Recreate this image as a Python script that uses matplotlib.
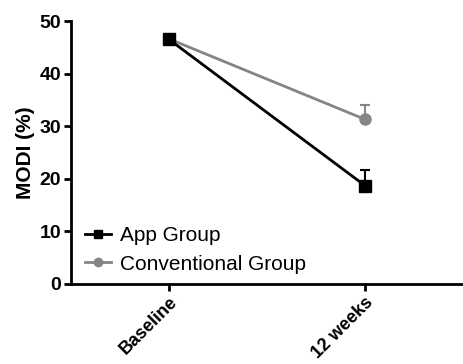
import matplotlib
matplotlib.use("Agg")
import matplotlib.pyplot as plt
from matplotlib.lines import Line2D
import numpy as np

plt.rcParams['font.family'] = ['Liberation Sans', 'DejaVu Sans']

categories = ["Baseline", "12 weeks"]
app_vals = [46.5, 18.7]
app_err = [0.5, 2.9]
conv_vals = [46.6, 31.3]
conv_err = [0.5, 2.7]
yticks = [0, 10, 20, 30, 40, 50]

fig = plt.figure(figsize=(4.63, 3.64), dpi=100)
ax = fig.add_axes([71/463, 1-284/364, (463-71)/463, (284-21)/364])

x = np.arange(len(categories))
grey = '#858585'
ax.errorbar(x, conv_vals, yerr=[np.zeros(2), conv_err], color=grey, lw=2,
            marker='o', ms=8, capsize=3.5, capthick=1.5, elinewidth=1.5, zorder=2)
ax.errorbar(x, app_vals, yerr=[np.zeros(2), app_err], color='black', lw=2,
            marker='s', ms=8, capsize=3.5, capthick=1.5, elinewidth=1.5, zorder=3)

ax.set_xlim(-0.5, 1.5)
ax.set_ylim(0, 50)
ax.set_yticks(yticks)
ax.set_xticks(x)
ax.set_xticklabels(categories, rotation=45, ha='right', rotation_mode='anchor',
                   fontweight='bold', fontsize=13)
for lbl in ax.get_yticklabels():
    lbl.set_fontweight('bold')
    lbl.set_fontsize(14)
ax.set_ylabel('MODI (%)', fontweight='bold', fontsize=15, labelpad=3)
for s in ['top', 'right']:
    ax.spines[s].set_visible(False)
for s in ['left', 'bottom']:
    ax.spines[s].set_linewidth(2)
ax.tick_params(width=2, length=5, direction='out', pad=2)

handles = [Line2D([], [], color='black', lw=2, marker='s', ms=6),
           Line2D([], [], color=grey, lw=2, marker='o', ms=6)]
ax.legend(handles, ['App Group', 'Conventional Group'], loc='lower left',
          frameon=False, fontsize=15, bbox_to_anchor=(0.01, 0.0),
          handlelength=1.25, handletextpad=0.4, borderaxespad=0.2,
          borderpad=0.3, labelspacing=0.45)

fig.savefig('out.png', dpi=100)
